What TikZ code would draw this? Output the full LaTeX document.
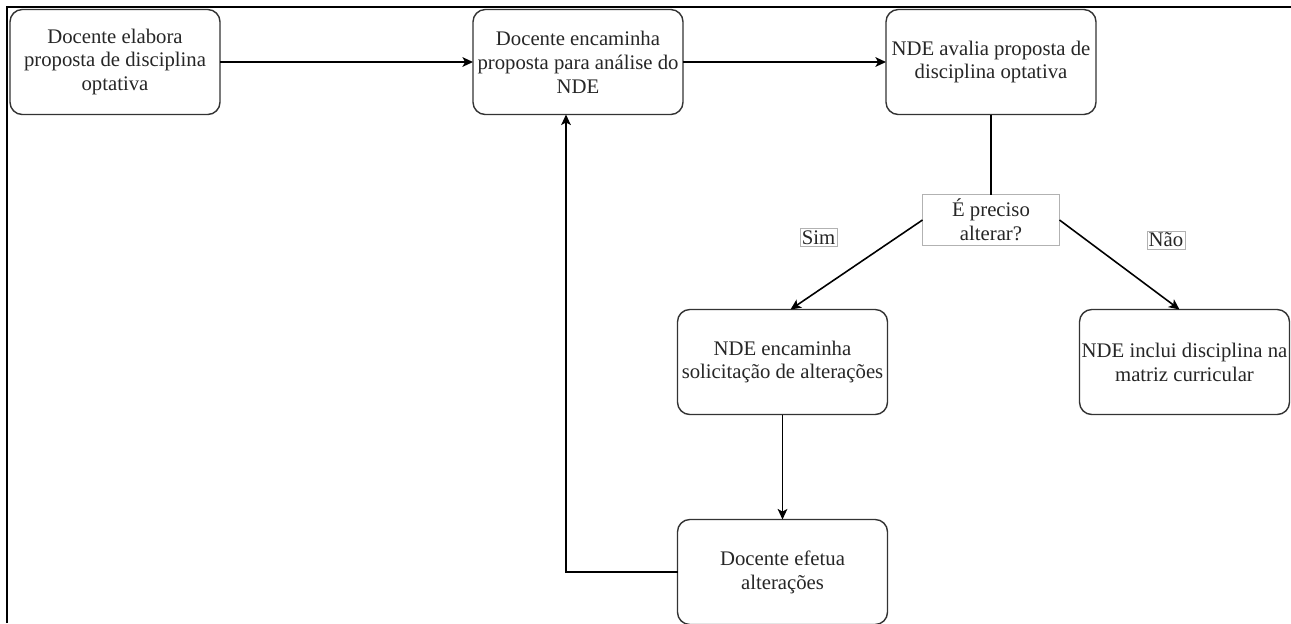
\documentclass[tikz,border=0pt]{standalone}
\usepackage{fontspec}
\setmainfont{Liberation Serif}
\usetikzlibrary{shapes,arrows,arrows.meta,positioning}

\begin{document}
\begin{tikzpicture}[
    node distance=1.6cm and 5.06cm,
    font=\fontsize{11.8}{13.6}\selectfont,
    proc/.style={draw=black!80, line width=0.8pt, rectangle, rounded corners=7pt, minimum width=4.2cm, minimum height=2.1cm, inner sep=1pt, outer sep=0pt, align=center, text=black!85, fill=white},
    dec/.style={draw=black!30, line width=0.4pt, rectangle, minimum width=2.74cm, minimum height=1.02cm, inner sep=1pt, outer sep=0pt, align=center, fill=white, text=black!85},
    tag/.style={draw=black!30, line width=0.4pt, rectangle, inner sep=1pt, fill=white, text=black!85},
    arrow/.style={-{Stealth[length=6pt, width=5.5pt, inset=1.5pt]}, line width=0.9pt},
    link/.style={line width=0.9pt}
]

    \useasboundingbox (0,0) rectangle (25.82,-12.46);
    \draw[line width=1.2pt] (0.14,-12.46) -- (0.14,-0.14) -- (25.82,-0.14);

    \node[proc] (elabora) at (2.3,-1.24) {Docente elabora\\proposta de disciplina\\optativa};
    \node[proc, right=5.06cm of elabora] (encaminha) {Docente encaminha\\proposta para análise do\\NDE};
    \node[proc, right=4.06cm of encaminha] (avalia) {NDE avalia proposta de\\disciplina optativa};

    \node[dec, below=1.6cm of avalia] (alterar) {É preciso\\alterar?};

    \node[proc, below left=1.28cm and 0.7cm of alterar] (solicita) {NDE encaminha\\solicitação de alterações};
    \node[proc, below right=1.28cm and 0.4cm of alterar] (inclui) {NDE inclui disciplina na\\matriz curricular};
    \node[proc, below=2.1cm of solicita] (efetua) {Docente efetua\\alterações};

    \node[tag] (sim) at (16.37,-4.75) {Sim};
    \node[tag] (nao) at (23.32,-4.8) {Não};

    \draw[arrow] (elabora) -- (encaminha);
    \draw[arrow] (encaminha) -- (avalia);
    \draw[link] (avalia) -- (alterar);
    \draw[arrow] (alterar.west) -- ([xshift=0.16cm]solicita.north);
    \draw[arrow] (alterar.east) -- ([xshift=-0.1cm]inclui.north);
    \draw[arrow] (solicita) -- (efetua);
    \draw[arrow] (efetua.west) -| ([xshift=-0.24cm]encaminha.south);

\end{tikzpicture}
\end{document}
